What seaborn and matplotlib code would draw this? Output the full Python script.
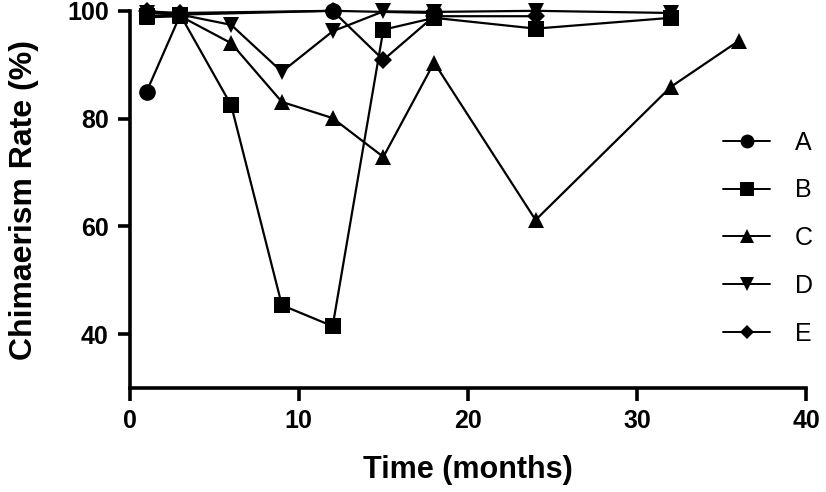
import matplotlib
matplotlib.use("Agg")
import matplotlib.pyplot as plt
import seaborn as sns
import pandas as pd

# ---- data ----
series_names = ["A", "B", "C", "D", "E"]

A_x = [1, 3, 12, 18]
A_y = [85.0, 99.3, 100.0, 99.6]

B_x = [1, 3, 6, 9, 12, 15, 18, 24, 32]
B_y = [99.0, 99.2, 82.5, 45.4, 41.5, 96.5, 98.7, 96.7, 98.7]

C_x = [1, 3, 6, 9, 12, 15, 18, 24, 32, 36]
C_y = [98.8, 99.0, 94.0, 83.1, 80.1, 72.9, 90.4, 61.2, 85.9, 94.4]

D_x = [1, 3, 6, 9, 12, 15, 18, 24, 32]
D_y = [99.6, 99.3, 97.4, 88.7, 96.2, 99.9, 99.8, 100.0, 99.6]

E_x = [1, 3, 12, 15, 18, 24]
E_y = [99.9, 99.6, 100.0, 90.9, 99.0, 99.0]

x_ticks = [0, 10, 20, 30, 40]
y_ticks = [40, 60, 80, 100]

# ---- build long table ----
frames = []
for name, xs, ys in [("A", A_x, A_y), ("B", B_x, B_y), ("C", C_x, C_y),
                     ("D", D_x, D_y), ("E", E_x, E_y)]:
    frames.append(pd.DataFrame({"time": xs, "rate": ys, "series": name}))
df = pd.concat(frames, ignore_index=True)

sns.set_style("ticks")
plt.rcParams["font.family"] = ["Liberation Sans", "DejaVu Sans"]
plt.rcParams["font.weight"] = "bold"
plt.rcParams["text.color"] = "black"
plt.rcParams["axes.labelcolor"] = "black"
plt.rcParams["xtick.color"] = "black"
plt.rcParams["ytick.color"] = "black"

markers = {"A": "o", "B": "s", "C": "^", "D": "v", "E": "D"}
msizes = {"A": 12, "B": 11, "C": 12, "D": 12, "E": 9}
leg_sizes = {"A": 10, "B": 9.5, "C": 10, "D": 10, "E": 7}

fig = plt.figure(figsize=(8.26, 4.92), dpi=100)
ax = fig.add_axes([0.157, 0.211, 0.976 - 0.157, 0.978 - 0.211])

for i, name in enumerate(series_names):
    sub = df[df["series"] == name]
    sns.lineplot(data=sub, x="time", y="rate", ax=ax, color="black",
                 marker=markers[name], markersize=msizes[name],
                 markeredgewidth=0, linewidth=1.6, label=name,
                 sort=False, estimator=None, clip_on=False, zorder=3 + i)

ax.set_xlim(0, 40)
ax.set_ylim(30, 100)
ax.set_xticks(x_ticks)
ax.set_yticks(y_ticks)

for side in ["top", "right"]:
    ax.spines[side].set_visible(False)
for side in ["left", "bottom"]:
    ax.spines[side].set_linewidth(2.6)
    ax.spines[side].set_color("black")

ax.tick_params(axis="both", which="major", length=9, width=2.6,
               colors="black", labelcolor="black", labelsize=18, pad=6)

ax.set_xlabel("Time (months)", fontsize=22, fontweight="bold", labelpad=16,
              color="black")
ax.set_ylabel("Chimaerism Rate (%)", fontsize=23, fontweight="bold",
              labelpad=20, color="black")

leg = ax.legend(loc="center left", bbox_to_anchor=(0.875, 0.516),
                bbox_transform=fig.transFigure, frameon=False,
                prop={"size": 18, "weight": "normal"},
                handlelength=1.9, handletextpad=1.0,
                labelspacing=0.95, borderpad=0, borderaxespad=0)
for h, name in zip(leg.legend_handles, series_names):
    h.set_markersize(leg_sizes[name])
    h.set_linewidth(1.4)
for t in leg.get_texts():
    t.set_color("black")

fig.savefig("out.png", dpi=100)
